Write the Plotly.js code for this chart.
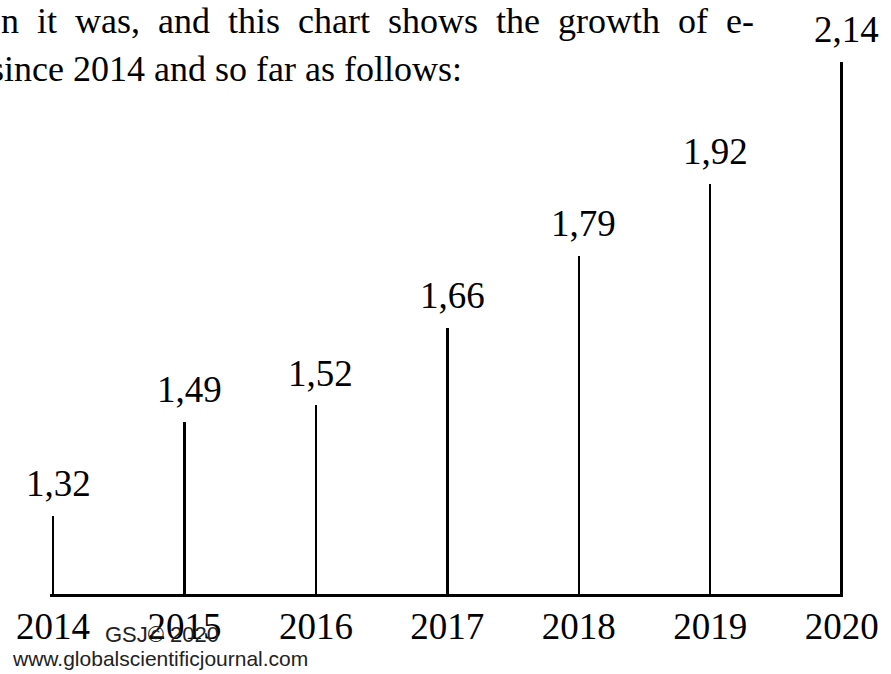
<!DOCTYPE html>
<html>
<head>
<meta charset="utf-8">
<script src="https://cdn.plot.ly/plotly-3.0.1.min.js"></script>
<style>html,body{margin:0;padding:0;background:#fff;}#chart{width:891px;height:674px;}</style>
</head>
<body>
<div id="chart"></div>
<script>
// ---- data ----
const years = [2014, 2015, 2016, 2017, 2018, 2019, 2020];
const growth = [1.32, 1.49, 1.52, 1.66, 1.79, 1.92, 2.14];
const yearLabels = years.map(String);
const valueLabels = growth.map(v => v.toFixed(2).replace('.', ','));
const headerLine1 = ['n', 'it', 'was,', 'and', 'this', 'chart', 'shows', 'the', 'growth', 'of', 'e-'];
const headerLine2 = 'since 2014 and so far as follows:';
const footerMark = 'GSJ\u00A9 2020';
const footerUrl = 'www.globalscientificjournal.com';

// ---- layout helpers ----
const W = 891, H = 674;
const M = {l: 50, r: 48, t: 40, b: 80};
const PW = W - M.l - M.r, PH = H - M.t - M.b;
const px2paperX = px => (px - M.l) / PW;
const px2paperY = py => (H - M.b - py) / PH;
const SERIF = 'Liberation Serif, Times New Roman, serif';
const SANS = 'Liberation Sans, Arial, sans-serif';

const stems = {
  type: 'bar',
  x: years,
  y: growth,
  width: 0.019,
  marker: {color: '#000', line: {width: 0}},
  hoverinfo: 'skip',
  showlegend: false
};

const valueAnnotations = years.map((yr, i) => ({
  xref: 'x', yref: 'y', x: yr, y: growth[i],
  text: valueLabels[i], showarrow: false,
  xanchor: 'center', yanchor: 'middle', xshift: 5, yshift: 32,
  font: {family: SERIF, size: 37, color: '#000'}
}));

const textAnnotations = [
  {xref: 'paper', yref: 'paper', x: px2paperX(-1), y: px2paperY(21),
   text: headerLine1.join(' \u00A0'), showarrow: false, xanchor: 'left', yanchor: 'middle',
   font: {family: SERIF, size: 36, color: '#000'}},
  {xref: 'paper', yref: 'paper', x: px2paperX(-12), y: px2paperY(69),
   text: headerLine2, showarrow: false, xanchor: 'left', yanchor: 'middle',
   font: {family: SERIF, size: 36, color: '#000'}},
  {xref: 'paper', yref: 'paper', x: px2paperX(103), y: px2paperY(634),
   text: footerMark, showarrow: false, xanchor: 'left', yanchor: 'middle',
   font: {family: SANS, size: 22, color: '#222'}},
  {xref: 'paper', yref: 'paper', x: px2paperX(10), y: px2paperY(658),
   text: footerUrl, showarrow: false, xanchor: 'left', yanchor: 'middle',
   font: {family: SANS, size: 21, color: '#222'}}
];

const layout = {
  width: W, height: H,
  margin: M,
  paper_bgcolor: '#fff', plot_bgcolor: '#fff',
  showlegend: false,
  bargap: 0,
  xaxis: {
    range: [2013.977, 2020.01],
    tickvals: years, ticktext: yearLabels,
    tickfont: {family: SERIF, size: 37, color: '#000'},
    ticks: '', ticklabelstandoff: -2,
    showline: true, linecolor: '#000', linewidth: 2.5,
    showgrid: false, zeroline: false, fixedrange: true
  },
  yaxis: {
    range: [1.1791, 2.1797],
    visible: false, showgrid: false, zeroline: false, fixedrange: true
  },
  annotations: valueAnnotations.concat(textAnnotations)
};

Plotly.newPlot('chart', [stems], layout, {displayModeBar: false, staticPlot: true});
</script>
</body>
</html>
